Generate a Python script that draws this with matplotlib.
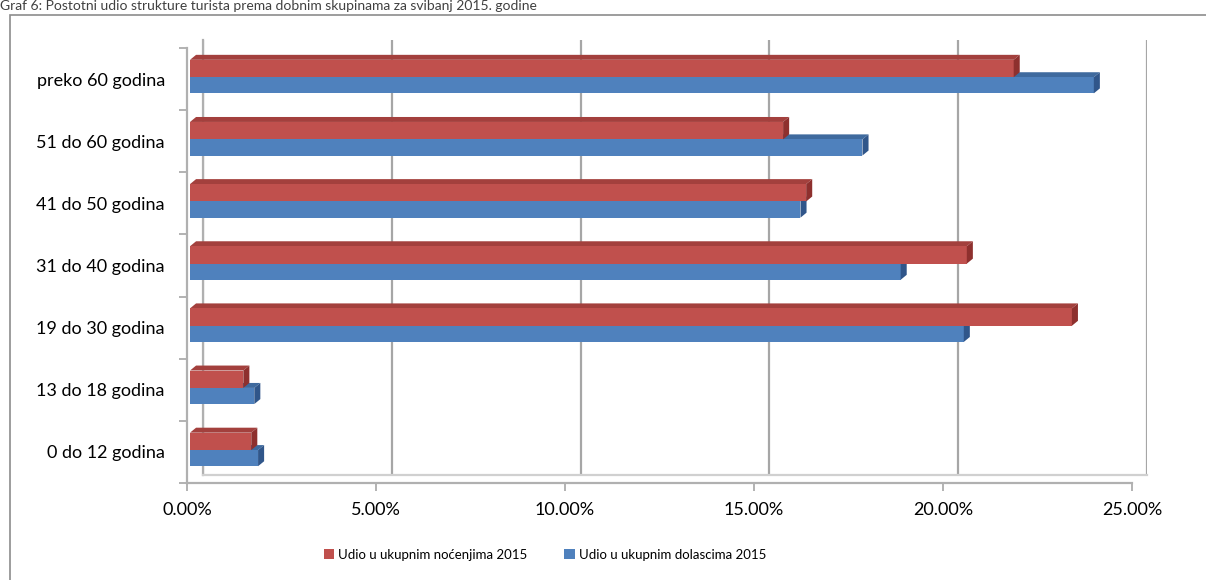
import numpy as np
import matplotlib.pyplot as plt
from matplotlib.patches import Polygon, Rectangle

plt.rcParams['font.family'] = ['Lato', 'DejaVu Sans']

# Age groups (bottom to top) and shares as fractions
groups = ['0 do 12 godina', '13 do 18 godina', '19 do 30 godina', '31 do 40 godina',
          '41 do 50 godina', '51 do 60 godina', 'preko 60 godina']
nocenja = [0.0162, 0.0141, 0.2333, 0.2055, 0.1630, 0.1569, 0.2179]
dolasci = [0.0180, 0.0170, 0.2047, 0.1880, 0.1615, 0.1779, 0.2391]
xticks = [0.0, 0.05, 0.10, 0.15, 0.20, 0.25]
series_names = ['Udio u ukupnim noćenjima 2015', 'Udio u ukupnim dolascima 2015']
title = 'Graf 6: Postotni udio strukture turista prema dobnim skupinama za svibanj 2015. godine'

W, H = 1206, 580
fig = plt.figure(figsize=(W / 100, H / 100), dpi=100)

# outer chart frame
fig.patches.append(Rectangle((10 / W, -0.1), 1.1, 1 - 15 / H + 0.1, transform=fig.transFigure,
                             fill=False, ec='#8c8c8c', lw=1.2))
fig.text(0.0, 1.0, title, ha='left', va='top', fontsize=10, color='#404040')

# back wall: gridlines
back = fig.add_axes([203 / W, 105 / H, 944 / W, 435 / H])
back.set_xlim(0, 0.25)
back.set_xticks(xticks)
back.set_yticks([])
back.grid(axis='x', color='#a6a6a6', lw=1.6)
back.tick_params(length=0, labelbottom=False)
for s in back.spines.values():
    s.set_visible(False)
back.spines['left'].set_visible(True)
back.spines['left'].set_color('#b0b0b0')
back.spines['left'].set_linewidth(1.6)
back.spines['bottom'].set_visible(True)
back.spines['bottom'].set_color('#d0d0d0')
back.spines['bottom'].set_linewidth(1.6)
back.patch.set_alpha(0)

ax = fig.add_axes([187 / W, 97 / H, 945 / W, 435 / H])
ax.patch.set_alpha(0)
ax.set_xlim(0, 0.25)
ax.set_ylim(-0.5, len(groups) - 0.5)

y = np.arange(len(groups))
dx, dy = 0.0016, 0.08


def bar3d(v, y0, h, face, top, side):
    x0 = 0.0008
    ax.add_patch(Rectangle((x0, y0), v, h, fc=face, ec='none', zorder=3))
    ax.add_patch(Polygon([(x0, y0 + h), (x0 + v, y0 + h), (x0 + v + dx, y0 + h + dy),
                          (x0 + dx, y0 + h + dy)], closed=True, fc=top, ec='none', zorder=2))
    ax.add_patch(Polygon([(x0 + v, y0), (x0 + v + dx, y0 + dy), (x0 + v + dx, y0 + h + dy),
                          (x0 + v, y0 + h)], closed=True, fc=side, ec='none', zorder=3))


for i in range(len(groups)):
    bar3d(dolasci[i], i - 0.23, 0.26, '#4F81BD', '#3F6A9E', '#30568A')
    bar3d(nocenja[i], i + 0.03, 0.28, '#C0504D', '#A3403D', '#8E302E')

ax.set_xticks(xticks)
ax.set_xticklabels(['%.2f%%' % (t * 100) for t in xticks], fontsize=13)
ax.set_yticks(y)
ax.set_yticklabels(groups, fontsize=13)
ax.set_yticks(np.arange(-0.5, len(groups)), minor=True)
ax.tick_params(axis='y', which='major', length=0, pad=16)
ax.tick_params(axis='y', which='minor', length=6, color='#a6a6a6', width=1.2)
ax.tick_params(axis='x', length=6, color='#a6a6a6', width=1.2, pad=8)
for s in ['top', 'right']:
    ax.spines[s].set_visible(False)
for s in ['left', 'bottom']:
    ax.spines[s].set_color('#b0b0b0')
    ax.spines[s].set_linewidth(1.6)

handles = [Rectangle((0, 0), 1, 1, fc='#C0504D'), Rectangle((0, 0), 1, 1, fc='#4F81BD')]
fig.legend(handles, series_names, loc='center', bbox_to_anchor=(545 / W, 1 - 555 / H), ncol=2,
           frameon=False, fontsize=9.5, handlelength=0.8, handleheight=0.8, handletextpad=0.3,
           columnspacing=2.8)

fig.savefig('out.png', dpi=100)
